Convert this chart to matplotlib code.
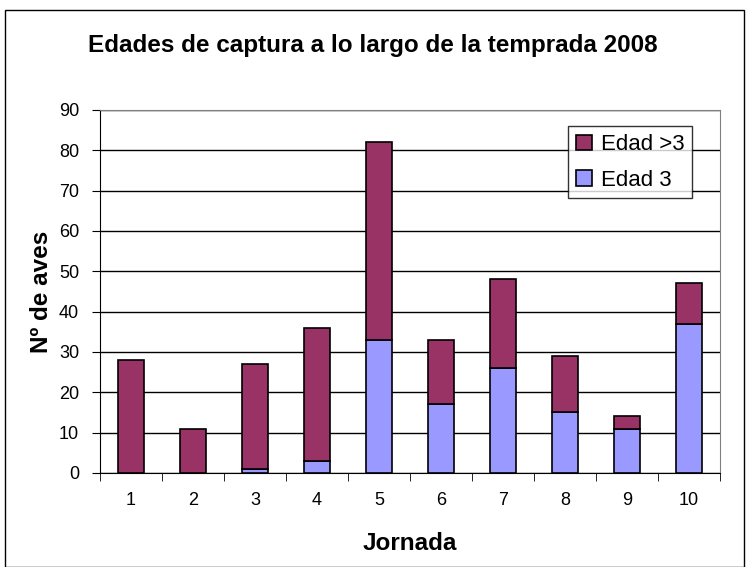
import matplotlib
matplotlib.use('Agg')
import matplotlib.pyplot as plt
import numpy as np
from matplotlib.patches import Rectangle

plt.rcParams['font.family'] = ['Liberation Sans', 'DejaVu Sans']

# datos
jornadas = ['1', '2', '3', '4', '5', '6', '7', '8', '9', '10']
edad3 = [0, 0, 1, 3, 33, 17, 26, 15, 11, 37]
edad_mas3 = [28, 11, 26, 33, 49, 16, 22, 14, 3, 10]

fig = plt.figure(figsize=(7.46, 5.67), dpi=100)
ax = fig.add_axes([0.134, 0.166, 0.831, 0.640])

x = np.arange(len(jornadas))
ax.bar(x, edad3, width=0.42, color='#9999ff', edgecolor='black', linewidth=1.2,
       label='Edad 3', zorder=3)
ax.bar(x, edad_mas3, width=0.42, bottom=edad3, color='#993366',
       edgecolor='black', linewidth=1.2, label='Edad >3', zorder=3)

ax.set_ylim(0, 90)
ax.set_xlim(-0.5, len(jornadas) - 0.5)
ax.set_yticks(range(0, 91, 10))
ax.yaxis.grid(True, color='black', linewidth=1, zorder=0)
ax.tick_params(axis='y', labelsize=13, length=6, direction='out', pad=9)

ax.set_xticks(x)
ax.set_xticklabels(jornadas, fontsize=13)
ax.set_xticks(np.arange(-0.5, len(jornadas)), minor=True)
ax.tick_params(axis='x', which='major', length=0, pad=14)
ax.tick_params(axis='x', which='minor', length=6, direction='out')

for s in ['top', 'right']:
    ax.spines[s].set_color('#808080')
ax.spines['left'].set_color('black')
ax.spines['bottom'].set_color('black')

ax.set_xlabel('Jornada', fontsize=17.5, fontweight='bold', labelpad=16)
ax.set_ylabel('Nº de aves', fontsize=17.5, fontweight='bold', labelpad=4)

handles, labels = ax.get_legend_handles_labels()
leg = ax.legend(handles[::-1], labels[::-1], loc='upper right',
                bbox_to_anchor=(0.955, 0.955), fontsize=16, frameon=True,
                fancybox=False, edgecolor='black', handlelength=0.7,
                handleheight=0.7, handletextpad=0.4, borderpad=0.35,
                labelspacing=0.65, borderaxespad=0)
leg.get_frame().set_linewidth(1)

fig.text(0.5, 0.92, 'Edades de captura a lo largo de la temprada 2008',
         ha='center', va='center', fontsize=17.5, fontweight='bold')

fig.patches.append(Rectangle((0.007, 0.0), 0.99, 0.983, transform=fig.transFigure,
                             fill=False, edgecolor='black', linewidth=1))

plt.savefig('out.png', dpi=100)
